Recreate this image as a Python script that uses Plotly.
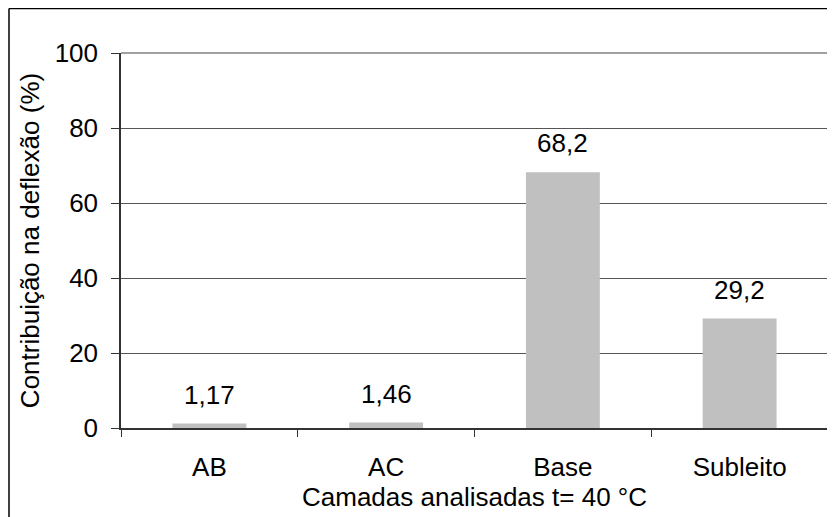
import plotly.graph_objects as go

categories = ["AB", "AC", "Base", "Subleito"]
values = [1.17, 1.46, 68.2, 29.2]
labels = [str(v).replace(".", ",") for v in values]
y_ticks = [0, 20, 40, 60, 80, 100]

FONT = "Liberation Sans, Arial, sans-serif"
FS = 26

# page body has an 8px margin; figure is sized to fill the remaining viewport
L, T, R, B = 113, 45, 7, 89
W, H = 827, 509
PW, PH = W - L - R, H - T - B

fig = go.Figure(go.Bar(
    x=categories, y=values,
    marker=dict(color="#c0c0c0", line=dict(width=0)),
    width=0.418,
))

for c, v, t in zip(categories, values, labels):
    fig.add_annotation(x=c, y=v, text=t, showarrow=False, yanchor="bottom",
                       yshift=12, font=dict(family=FONT, size=FS, color="black"))

# outer border (top and left) and plot frame (top and right)
bx = (1 - L) / PW
by = 1 + (T - 0.5) / PH
fig.add_shape(type="line", xref="paper", yref="paper",
              x0=bx, x1=(822 - L) / PW, y0=by, y1=by,
              line=dict(color="black", width=1.5))
fig.add_shape(type="line", xref="paper", yref="paper",
              x0=bx, x1=bx, y0=by, y1=-(B + 20) / PH,
              line=dict(color="black", width=1.5))
fig.add_shape(type="line", xref="paper", yref="paper", x0=0, x1=1, y0=1, y1=1,
              line=dict(color="#808080", width=1.5))
fig.add_shape(type="line", xref="paper", yref="paper", x0=1, x1=1, y0=0, y1=1,
              line=dict(color="#808080", width=1.5))

fig.update_layout(
    width=W, height=H,
    margin=dict(l=L, r=R, t=T, b=B, autoexpand=False),
    paper_bgcolor="white", plot_bgcolor="white",
    font=dict(family=FONT, size=FS, color="black"),
    showlegend=False,
    bargap=0.582,
    xaxis=dict(
        title=dict(text="Camadas analisadas t= 40 °C", standoff=5,
                   font=dict(size=FS)),
        showline=True, linecolor="#333333", linewidth=1.5,
        ticks="outside", tickson="boundaries", ticklen=7, tickcolor="#333333",
        showgrid=False, tickfont=dict(size=FS),
        ticklabelstandoff=15, automargin=False,
    ),
    yaxis=dict(
        title=dict(text="Contribuição na deflexão (%)", standoff=8,
                   font=dict(size=FS)),
        range=[0, 100], tickvals=y_ticks, ticktext=[str(v) for v in y_ticks],
        showline=True, linecolor="#333333", linewidth=1.5,
        ticks="outside", ticklen=8, tickcolor="#333333",
        showgrid=True, gridcolor="#555555", gridwidth=1,
        zeroline=False, tickfont=dict(size=FS),
        ticklabelstandoff=8, automargin=False,
    ),
)

fig.write_html("out.html")
